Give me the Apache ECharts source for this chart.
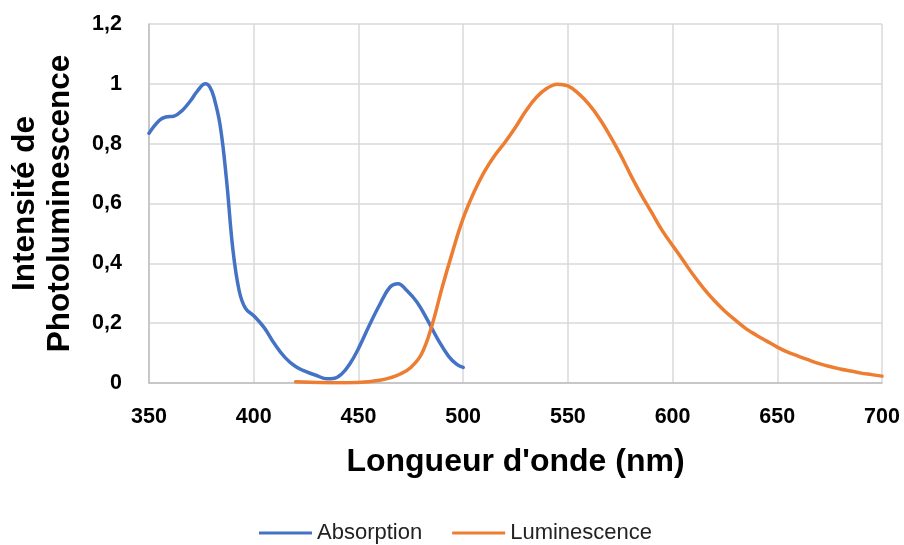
<!DOCTYPE html>
<html>
<head>
<meta charset="utf-8">
<script src="https://cdn.jsdelivr.net/npm/echarts@6/dist/echarts.min.js"></script>
<style>
  html, body { margin: 0; padding: 0; background: #ffffff; }
  #chart { width: 904px; height: 545px; }
</style>
</head>
<body>
<div id="chart"></div>
<script>
// Absorption spectrum: wavelength (nm) and normalised intensity
var absWavelength = [350, 355, 358, 362, 366, 370, 373, 377, 379, 381, 384, 387, 390, 393, 396, 400, 405, 410, 415, 420, 425, 430, 435, 438, 442, 446, 450, 455, 460, 465, 469, 473, 478, 483, 488, 493, 497, 500];
var absIntensity = [0.835, 0.878, 0.889, 0.892, 0.912, 0.945, 0.975, 1.0, 0.99, 0.955, 0.86, 0.68, 0.45, 0.31, 0.25, 0.225, 0.185, 0.13, 0.085, 0.055, 0.038, 0.025, 0.014, 0.015, 0.03, 0.065, 0.115, 0.19, 0.26, 0.32, 0.332, 0.31, 0.27, 0.21, 0.145, 0.09, 0.062, 0.052];

// Luminescence spectrum: wavelength (nm) and normalised intensity
var lumWavelength = [420, 430, 440, 450, 455, 460, 465, 470, 475, 480, 485, 490, 495, 500, 505, 510, 515, 520, 525, 530, 535, 540, 545, 550, 555, 560, 565, 570, 575, 580, 585, 590, 595, 600, 605, 610, 615, 620, 625, 630, 635, 640, 645, 650, 655, 660, 665, 670, 675, 680, 685, 690, 695, 700];
var lumIntensity = [0.004, 0.002, 0.001, 0.002, 0.004, 0.009, 0.017, 0.03, 0.052, 0.095, 0.19, 0.32, 0.44, 0.55, 0.635, 0.705, 0.76, 0.805, 0.855, 0.91, 0.955, 0.985, 0.999, 0.993, 0.968, 0.932, 0.885, 0.828, 0.765, 0.695, 0.63, 0.57, 0.51, 0.46, 0.41, 0.36, 0.315, 0.275, 0.24, 0.21, 0.182, 0.16, 0.14, 0.12, 0.103, 0.09, 0.077, 0.065, 0.055, 0.047, 0.04, 0.033, 0.028, 0.023];

var seriesNames = ['Absorption', 'Luminescence'];
var xTitle = "Longueur d'onde (nm)";
var yTitle = 'Intensité de\nPhotoluminescence';

function pairs(xs, ys) {
  return xs.map(function (x, i) { return [x, ys[i]]; });
}

var chart = echarts.init(document.getElementById('chart'), null, { renderer: 'canvas' });
var FONT = '"Liberation Sans", Arial, sans-serif';

chart.setOption({
  animation: false,
  backgroundColor: '#ffffff',
  grid: { left: 145, right: 22, top: 24, bottom: 162, containLabel: false },
  legend: {
    top: 517,
    left: 254,
    itemWidth: 53,
    itemHeight: 3,
    itemGap: 30,
    icon: 'rect',
    textStyle: { fontFamily: FONT, fontSize: 22, color: '#222222' },
    data: seriesNames
  },
  xAxis: {
    type: 'value',
    min: 350,
    max: 700,
    interval: 50,
    name: xTitle,
    nameLocation: 'middle',
    nameGap: 63,
    nameTextStyle: { fontFamily: FONT, fontSize: 32, fontWeight: 'bold', color: '#000000' },
    axisLine: { show: true, lineStyle: { color: '#bfbfbf', width: 1.5 } },
    axisTick: { show: false },
    axisLabel: { fontFamily: FONT, fontSize: 21.5, fontWeight: 'bold', color: '#000000', margin: 23 },
    splitLine: { show: true, lineStyle: { color: '#d9d9d9', width: 1.5 } }
  },
  yAxis: {
    type: 'value',
    min: 0,
    max: 1.2,
    interval: 0.2,
    name: yTitle,
    nameLocation: 'middle',
    nameGap: 71,
    nameTextStyle: { fontFamily: FONT, fontSize: 31.5, fontWeight: 'bold', color: '#000000', lineHeight: 35 },
    axisLine: { show: true, lineStyle: { color: '#bfbfbf', width: 1.5 } },
    axisTick: { show: false },
    axisLabel: {
      fontFamily: FONT, fontSize: 21.5, fontWeight: 'bold', color: '#000000', margin: 27,
      formatter: function (v) { return String(Math.round(v * 10) / 10).replace('.', ','); }
    },
    splitLine: { show: true, lineStyle: { color: '#d9d9d9', width: 1.5 } }
  },
  series: [
    {
      name: seriesNames[0],
      type: 'line',
      data: pairs(absWavelength, absIntensity),
      smooth: 0.4,
      symbol: 'none',
      itemStyle: { color: '#4472C4' },
      lineStyle: { color: '#4472C4', width: 3.5, cap: 'round', join: 'round' }
    },
    {
      name: seriesNames[1],
      type: 'line',
      data: pairs(lumWavelength, lumIntensity),
      smooth: 0.4,
      symbol: 'none',
      itemStyle: { color: '#ED7D31' },
      lineStyle: { color: '#ED7D31', width: 3.5, cap: 'round', join: 'round' }
    }
  ]
});
</script>
</body>
</html>
